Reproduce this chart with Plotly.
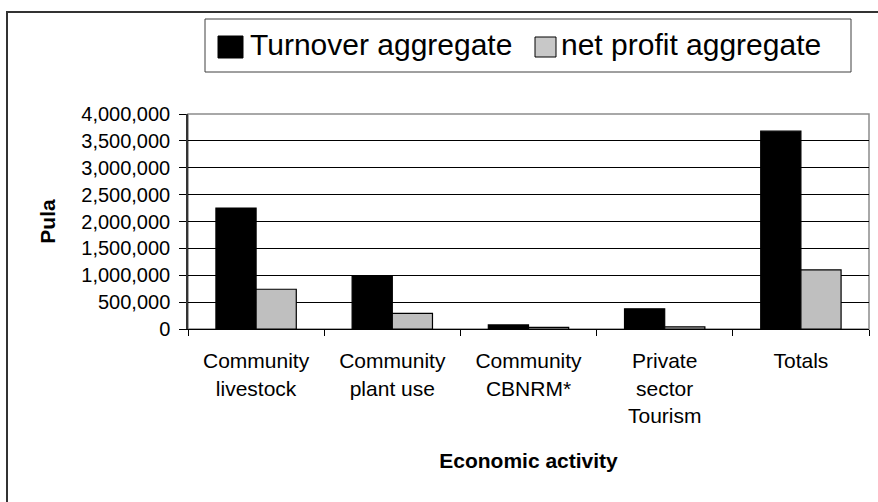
import plotly.graph_objects as go

# Economic activity categories and aggregates (Pula)
categories = ["Community<br>livestock", "Community<br>plant use", "Community<br>CBNRM*",
              "Private<br>sector<br>Tourism", "Totals"]
turnover = [2250000, 980000, 75000, 375000, 3680000]
net_profit = [740000, 290000, 30000, 40000, 1100000]
series_names = ["Turnover aggregate", "net profit aggregate"]
y_ticks = [0, 500000, 1000000, 1500000, 2000000, 2500000, 3000000, 3500000, 4000000]

W, H = 878, 502
ML, MR, MT, MB = 188, 9, 114, 173
PW, PH = W - ML - MR, H - MT - MB
FONT = "Arial, Liberation Sans, sans-serif"


def px(x):
    return (x - ML) / PW


def py(y):
    return (H - MB - y) / PH


fig = go.Figure()
fig.add_trace(go.Bar(
    x=categories, y=turnover, name=series_names[0],
    marker=dict(color="black", line=dict(color="black", width=1.2)),
))
fig.add_trace(go.Bar(
    x=categories, y=net_profit, name=series_names[1],
    marker=dict(color="#cccccc", line=dict(color="black", width=1.2),
                pattern=dict(shape=".", size=2, solidity=0.5,
                             fgcolor="#9a9a9a", bgcolor="#dcdcdc", fillmode="replace")),
))

shapes = [
    # outer frame
    dict(type="rect", xref="paper", yref="paper", x0=px(7), x1=px(885), y0=py(510), y1=py(12),
         line=dict(color="#333333", width=2), fillcolor="rgba(0,0,0,0)", layer="below"),
    # plot area frame (top and right edges in grey)
    dict(type="rect", xref="paper", yref="paper", x0=0, x1=1, y0=0, y1=1,
         line=dict(color="#8c8c8c", width=1.5), fillcolor="rgba(0,0,0,0)", layer="between"),
    # legend box
    dict(type="rect", xref="paper", yref="paper", x0=px(205), x1=px(851), y0=py(72), y1=py(19),
         line=dict(color="#404040", width=1), fillcolor="white"),
    # legend swatches
    dict(type="rect", xref="paper", yref="paper", x0=px(218), x1=px(243), y0=py(58), y1=py(36),
         line=dict(color="black", width=1), fillcolor="black"),
    dict(type="rect", xref="paper", yref="paper", x0=px(535), x1=px(556), y0=py(57), y1=py(37),
         line=dict(color="black", width=1), fillcolor="#c8c8c8"),
]

annotations = [
    dict(text=series_names[0], xref="paper", yref="paper", x=px(248), y=py(45),
         xanchor="left", yanchor="middle", showarrow=False,
         font=dict(family=FONT, size=30, color="black")),
    dict(text=series_names[1], xref="paper", yref="paper", x=px(559), y=py(45),
         xanchor="left", yanchor="middle", showarrow=False,
         font=dict(family=FONT, size=30, color="black")),
]

fig.update_layout(
    width=W, height=H,
    margin=dict(l=ML, r=MR, t=MT, b=MB),
    paper_bgcolor="white", plot_bgcolor="white",
    barmode="group", bargap=0.41, bargroupgap=0,
    showlegend=False,
    font=dict(family=FONT, size=20, color="black"),
    shapes=shapes, annotations=annotations,
    xaxis=dict(
        type="category", tickson="boundaries", ticks="outside", ticklen=6,
        tickcolor="black", tickwidth=1, showline=True, linecolor="black", linewidth=1,
        showgrid=False, tickfont=dict(size=21), ticklabelstandoff=13,
        title=dict(text="<b>Economic activity</b>", font=dict(size=21), standoff=27),
    ),
    yaxis=dict(
        range=[0, 4000000], tickvals=y_ticks, tickformat=",", ticks="outside",
        ticklen=7, tickcolor="black", tickwidth=1, showline=True, linecolor="#333333",
        linewidth=1.5, showgrid=True, gridcolor="black", gridwidth=1, zeroline=False,
        tickfont=dict(size=20), ticklabelstandoff=5,
        title=dict(text="<b>Pula</b>", font=dict(size=21), standoff=20),
    ),
)

fig.write_html("out.html")
